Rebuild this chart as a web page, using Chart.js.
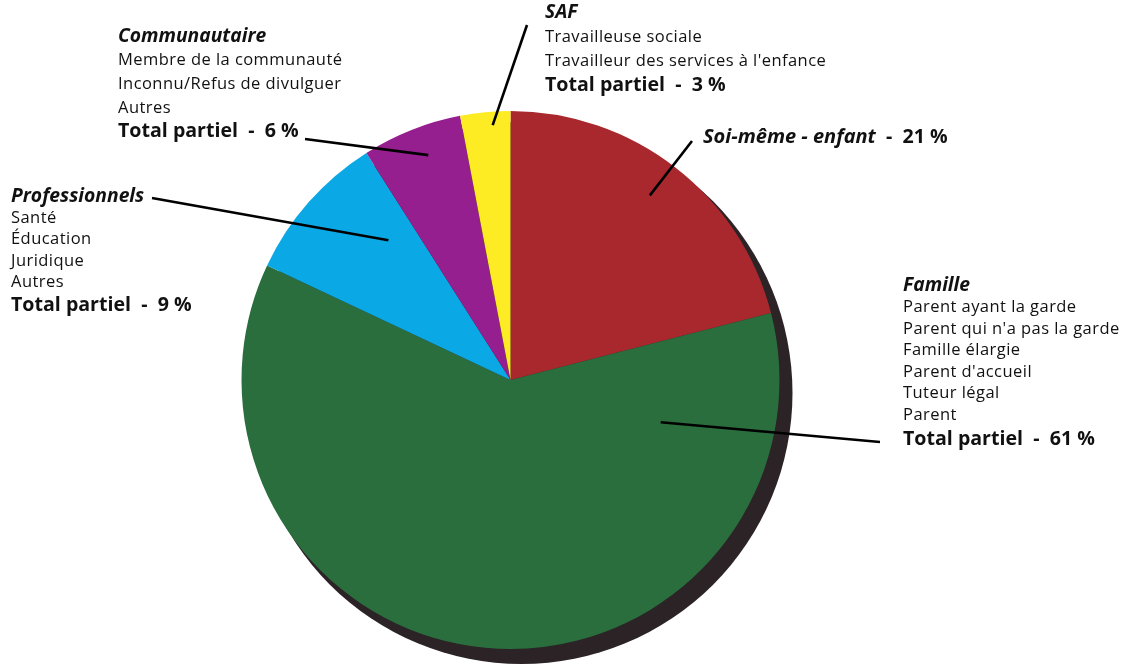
<!DOCTYPE html>
<html><head><meta charset="utf-8">
<script src="https://cdn.jsdelivr.net/npm/chart.js@4.4.1/dist/chart.umd.min.js"></script>
<style>html,body{margin:0;padding:0;background:#fff;}#wrap{width:1123px;height:669px;}</style>
</head><body><div id="wrap"><canvas id="c" width="1123" height="669"></canvas></div>
<script>
// Référence des signalements, par source
const categories = ['Soi-même - enfant', 'Famille', 'Professionnels', 'Communautaire', 'SAF'];
const values = [21, 61, 9, 6, 3];
const colors = ['#A8282E', '#2A6E3E', '#0BA8E6', '#951F8E', '#FDEC24'];
const subItems = [
  [],
  ['Parent ayant la garde', "Parent qui n'a pas la garde", 'Famille élargie', "Parent d'accueil", 'Tuteur légal', 'Parent'],
  ['Santé', 'Éducation', 'Juridique', 'Autres'],
  ['Membre de la communauté', 'Inconnu/Refus de divulguer', 'Autres'],
  ['Travailleuse sociale', "Travailleur des services à l'enfance"]
];
const totalText = 'Total partiel';

// Placement of each text block and where its leader line meets the slice
const blocks = [
  { x: 703, y: 137, inline: true, lineEnd: [692, 141], t: 0.49, rf: 0.86 },
  { x: 903, y: 286, gap: 21.5, totalY: 439, lineEnd: [880, 442], t: 0.137, rf: 0.58 },
  { x: 11, y: 197, gap: 21.3, totalY: 305, lineEnd: [152, 198], t: 0.73, rf: 0.69 },
  { x: 118, y: 37, gap: 23.7, totalY: 131, lineEnd: [305, 139], t: 0.57, rf: 0.89 },
  { x: 545, y: 13, gap: 24.3, totalY: 85, lineEnd: [527, 25], t: 0.63, rf: 0.95 }
];

const FAMILY = '"Open Sans", Lato, sans-serif';
const fRegular = '16.5px ' + FAMILY;
const fTitle = 'italic bold 19.3px ' + FAMILY;
const fTotal = 'bold 19.6px ' + FAMILY;
const fInlineTitle = 'italic bold 20px ' + FAMILY;

// dark rim behind the pie, offset toward the lower right
const pieShadow = {
  id: 'pieShadow',
  beforeDatasetsDraw(chart) {
    const arc = chart.getDatasetMeta(0).data[0];
    if (!arc) return;
    const { x, y, outerRadius } = arc.getProps(['x', 'y', 'outerRadius'], true);
    const ctx = chart.ctx;
    ctx.save();
    ctx.fillStyle = '#2B2326';
    ctx.beginPath();
    ctx.arc(x + 11, y + 13, outerRadius + 2, 0, Math.PI * 2);
    ctx.fill();
    ctx.restore();
  }
};

const calloutLabels = {
  id: 'calloutLabels',
  afterDatasetsDraw(chart) {
    const ctx = chart.ctx;
    const meta = chart.getDatasetMeta(0);
    ctx.save();
    ctx.textBaseline = 'middle';
    ctx.textAlign = 'left';
    ctx.fillStyle = '#111';
    blocks.forEach((b, i) => {
      const arc = meta.data[i];
      const p = arc.getProps(['x', 'y', 'startAngle', 'endAngle', 'outerRadius'], true);
      const a = p.startAngle + b.t * (p.endAngle - p.startAngle);
      const ax = p.x + Math.cos(a) * p.outerRadius * b.rf;
      const ay = p.y + Math.sin(a) * p.outerRadius * b.rf;
      // leader line
      ctx.strokeStyle = '#000';
      ctx.lineWidth = 2.6;
      ctx.beginPath();
      ctx.moveTo(b.lineEnd[0], b.lineEnd[1]);
      ctx.lineTo(ax, ay);
      ctx.stroke();

      const pct = values[i] + ' %';
      if (b.inline) {
        ctx.font = fInlineTitle;
        ctx.fillText(categories[i], b.x, b.y);
        const w = ctx.measureText(categories[i]).width;
        ctx.font = fTotal;
        ctx.fillText('  -  ' + pct, b.x + w, b.y);
        return;
      }
      ctx.font = fTitle;
      ctx.fillText(categories[i], b.x, b.y);
      ctx.font = fRegular;
      ctx.letterSpacing = '0.45px';
      subItems[i].forEach((s, k) => ctx.fillText(s, b.x, b.y + b.gap * (k + 1)));
      ctx.letterSpacing = '0px';
      ctx.font = fTotal;
      ctx.fillText(totalText + '  -  ' + pct, b.x, b.totalY);
    });
    ctx.restore();
  }
};

new Chart(document.getElementById('c'), {
  type: 'pie',
  data: {
    labels: categories,
    datasets: [{ data: values, backgroundColor: colors, borderWidth: 0 }]
  },
  options: {
    responsive: false,
    animation: false,
    layout: { padding: { left: 241, right: 343, top: 111, bottom: 20 } },
    plugins: { legend: { display: false }, tooltip: { enabled: false } }
  },
  plugins: [pieShadow, calloutLabels]
});
</script>
</body></html>
